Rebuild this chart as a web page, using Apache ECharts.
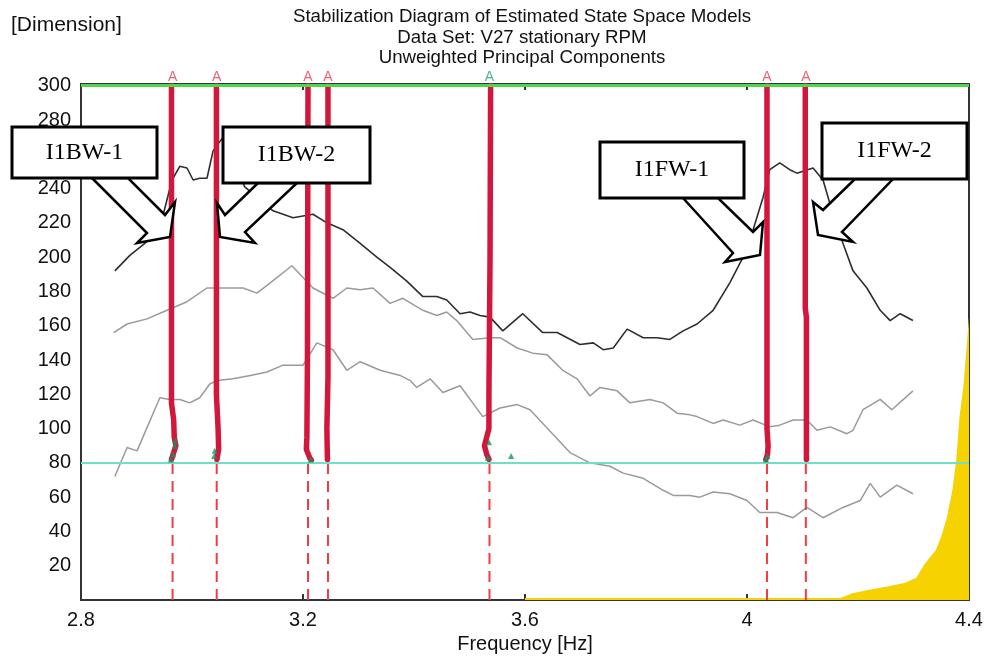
<!DOCTYPE html>
<html><head><meta charset="utf-8">
<script src="https://cdn.jsdelivr.net/npm/echarts@6.0.0/dist/echarts.min.js"></script>
<style>html,body{margin:0;padding:0;background:#fff}#c{width:997px;height:660px}</style>
</head><body><div id="c"></div>
<script>
// ---------- data ----------
const titleLines = ['Stabilization Diagram of Estimated State Space Models', 'Data Set: V27 stationary RPM', 'Unweighted Principal Components'];
const yAxisTitle = '[Dimension]';
const xAxisTitle = 'Frequency [Hz]';
const xRange = [2.8, 4.4];
const xStep = 0.4;
const yRange = [0, 301];
const yStep = 20;
const thresholdDim = 80;   // lower stabilization limit
const maxDim = 300;        // highest model order

const darkCurve = [[2.861,192],[2.888,201],[2.915,208],[2.942,217],[2.964,245],[2.978,253],[2.991,252],[3.002,245],[3.014,246],[3.027,246],[3.038,262],[3.056,270],[3.095,241],[3.146,227],[3.182,223],[3.218,225],[3.243,220],[3.272,216],[3.303,208],[3.333,200],[3.357,194],[3.387,186],[3.416,177],[3.441,177],[3.459,175],[3.483,167],[3.501,168],[3.519,166],[3.537,165],[3.560,157],[3.596,167],[3.632,156],[3.658,156],[3.676,153],[3.699,149],[3.723,150],[3.741,146],[3.759,147],[3.784,158],[3.813,153],[3.838,153],[3.861,152],[3.885,157],[3.910,161],[3.939,169],[3.969,185],[3.993,200],[4.011,216],[4.029,235],[4.041,251],[4.059,255],[4.077,251],[4.090,249],[4.119,252],[4.137,245],[4.155,225],[4.173,208],[4.191,192],[4.216,182],[4.240,169],[4.258,163],[4.276,167],[4.299,163]];

const midCurve = [[2.859,156],[2.883,161],[2.919,164],[2.955,169],[2.991,174],[3.027,182],[3.063,182],[3.092,182],[3.117,179],[3.141,185],[3.180,195],[3.218,182],[3.254,176],[3.279,182],[3.303,181],[3.326,182],[3.357,173],[3.380,176],[3.416,169],[3.441,166],[3.459,168],[3.477,163],[3.506,152],[3.537,153],[3.555,153],[3.586,147],[3.614,144],[3.640,143],[3.668,134],[3.694,129],[3.717,119],[3.735,124],[3.766,122],[3.789,115],[3.825,117],[3.849,115],[3.874,109],[3.897,108],[3.910,107],[3.939,103],[3.957,105],[3.987,102],[4.011,105],[4.041,101],[4.059,102],[4.083,105],[4.108,105],[4.126,99],[4.150,101],[4.180,97],[4.191,99],[4.209,111],[4.240,117],[4.261,111],[4.299,122]];

const lowCurve = [[2.861,72],[2.883,89],[2.901,87],[2.942,118],[2.960,117],[2.978,117],[2.996,115],[3.014,118],[3.032,126],[3.045,128],[3.074,129],[3.105,131],[3.135,133],[3.164,137],[3.200,137],[3.225,150],[3.254,146],[3.279,134],[3.303,139],[3.339,134],[3.375,131],[3.393,128],[3.405,124],[3.429,129],[3.452,121],[3.483,125],[3.524,107],[3.555,112],[3.586,114],[3.609,111],[3.681,86],[3.717,80],[3.753,78],[3.777,74],[3.813,71],[3.849,64],[3.867,61],[3.897,61],[3.915,60],[3.939,63],[3.969,62],[4.000,58],[4.023,51],[4.054,51],[4.083,48],[4.108,54],[4.137,48],[4.173,54],[4.204,58],[4.222,68],[4.240,60],[4.270,67],[4.299,62]];

const poleCount = [[3.600,1.2],[4.168,1.2],[4.175,2],[4.190,4],[4.220,6],[4.255,8],[4.285,10],[4.305,13],[4.320,21],[4.340,29],[4.350,37],[4.360,48],[4.370,64],[4.377,82],[4.383,107],[4.390,125],[4.395,145],[4.400,165]];

const modeFreqs = [2.965, 3.0445, 3.209, 3.245, 3.536, 4.036, 4.106];
const modeHighlighted = [0, 0, 0, 0, 1, 0, 0];

const stableCols = [
  [[2.963,300],[2.963,115],[2.967,105],[2.968,95],[2.971,90],[2.966,85],[2.963,82]],
  [[3.044,300],[3.044,120],[3.047,100],[3.048,88],[3.045,82]],
  [[3.209,300],[3.208,140],[3.207,95],[3.206,88],[3.212,83],[3.215,81.5]],
  [[3.245,300],[3.245,130],[3.243,100],[3.244,82]],
  [[3.538,300],[3.537,200],[3.535,120],[3.535,100],[3.531,95],[3.527,90],[3.531,85],[3.535,82]],
  [[4.036,300],[4.036,100],[4.038,90],[4.037,85],[4.034,82]],
  [[4.105,300],[4.105,170],[4.107,165],[4.107,82]]
];

const greenPoles = [[2.962,82],[2.966,85],[2.969,90],[2.970,93],[3.040,84],[3.041,87],[3.214,82],[3.533,83],[3.535,92],[3.575,84],[4.034,82],[4.037,84]];

const modeNames = ['I1BW-1', 'I1BW-2', 'I1FW-1', 'I1FW-2'];

// ---------- chart ----------
const chart = echarts.init(document.getElementById('c'), null, {renderer: 'canvas'});
const FRAME = '#333';
const RED = '#d3173b';
const series = [];

series.push({
  type: 'line', data: poleCount, symbol: 'none', silent: true,
  lineStyle: {width: 0}, areaStyle: {color: '#f6d200', opacity: 1}, z: 1,
  markLine: {
    silent: true, symbol: 'none', label: {show: false},
    data: [
      {yAxis: maxDim, lineStyle: {color: '#4fd64f', width: 3, type: 'solid'}},
      {yAxis: thresholdDim, lineStyle: {color: '#6fe0c8', width: 2, type: 'solid'}}
    ]
  }
});
[[darkCurve, '#2e2e2e', 1.6], [midCurve, '#9a9a9a', 1.5], [lowCurve, '#9a9a9a', 1.5]].forEach(([d, c, w]) => {
  series.push({type: 'line', data: d, symbol: 'none', silent: true, lineStyle: {color: c, width: w}, z: 2});
});
modeFreqs.forEach(f => {
  series.push({type: 'line', data: [[f, yRange[0]], [f, thresholdDim]], symbol: 'none', silent: true,
    lineStyle: {color: '#ef3d47', width: 2, type: [11, 7]}, z: 3});
});
stableCols.forEach(col => {
  series.push({type: 'line', data: col, symbol: 'none', silent: true,
    lineStyle: {color: RED, width: 5.5, cap: 'round', join: 'round'}, z: 4});
});
series.push({type: 'scatter', data: greenPoles, symbol: 'triangle', symbolSize: 6, silent: true,
  itemStyle: {color: '#14955a'}, z: 5});
series.push({type: 'scatter', silent: true, clip: false, symbolSize: 1, z: 6,
  data: modeFreqs.map((f, i) => ({value: [f, maxDim],
    label: {color: modeHighlighted[i] ? '#22a06b' : '#e23a57'}})),
  itemStyle: {color: 'rgba(0,0,0,0)'},
  label: {show: true, position: 'top', distance: 1, formatter: 'A', fontSize: 14, fontFamily: 'Liberation Sans'}
});

// annotation callouts (layout in pixels)
const boxes = [
  {x: 12, y: 127, w: 145, h: 51, arrow: [[92,178],[147,233],[137,243],[170,237],[175,202],[165,215],[128,178]]},
  {x: 223, y: 127, w: 147, h: 56, arrow: [[258,183],[225,215],[217,203],[220,237],[255,243],[245,232],[297,183]]},
  {x: 600, y: 142, w: 144, h: 56, arrow: [[683,198],[733,253],[725,262],[760,255],[763,222],[753,232],[718,198]]},
  {x: 822, y: 123, w: 145, h: 56, arrow: [[855,179],[823,210],[813,202],[818,235],[853,242],[842,232],[893,179]]}
];
const graphics = [];
boxes.forEach((b, i) => {
  graphics.push({type: 'polygon', z: 100, shape: {points: b.arrow},
    style: {fill: '#fff', stroke: '#000', lineWidth: 2.5, lineJoin: 'miter'}});
  graphics.push({type: 'rect', z: 101, shape: {x: b.x, y: b.y, width: b.w, height: b.h},
    style: {fill: '#fff', stroke: '#000', lineWidth: 3}});
  graphics.push({type: 'text', z: 102, x: b.x + b.w / 2, y: b.y + b.h / 2,
    style: {text: modeNames[i], font: '24px "Liberation Serif"', fill: '#000', textAlign: 'center', textVerticalAlign: 'middle', verticalAlign: 'middle'}});
});
titleLines.forEach((t, i) => {
  graphics.push({type: 'text', x: 522, y: 17 + i * 20.5,
    style: {text: t, font: '18.7px "Liberation Sans"', fill: '#111', textAlign: 'center', textVerticalAlign: 'middle', verticalAlign: 'middle'}});
});
graphics.push({type: 'text', x: 11, y: 25,
  style: {text: yAxisTitle, font: '21px "Liberation Sans"', fill: '#111', textAlign: 'left', textVerticalAlign: 'middle', verticalAlign: 'middle'}});

const axisCommon = {
  axisLine: {show: true, onZero: false, lineStyle: {color: FRAME, width: 2}},
  splitLine: {show: false}
};
chart.setOption({
  animation: false,
  backgroundColor: '#fff',
  grid: {left: 81, right: 28, top: 84, bottom: 60, containLabel: false},
  xAxis: [
    Object.assign({type: 'value', min: xRange[0], max: xRange[1], interval: xStep, position: 'bottom',
      axisTick: {show: true, inside: true, length: 6, lineStyle: {color: FRAME, width: 2}},
      axisLabel: {fontSize: 20, color: '#111', margin: 10, fontFamily: 'Liberation Sans'},
      name: xAxisTitle, nameLocation: 'middle', nameGap: 28,
      nameTextStyle: {fontSize: 20, color: '#111', fontFamily: 'Liberation Sans'}}, axisCommon),
    Object.assign({type: 'value', min: xRange[0], max: xRange[1], interval: xStep, position: 'top',
      axisTick: {show: true, inside: true, length: 6, lineStyle: {color: FRAME, width: 2}},
      axisLabel: {show: false}}, axisCommon)
  ],
  yAxis: [
    Object.assign({type: 'value', min: yRange[0], max: yRange[1], interval: yStep, position: 'left',
      axisTick: {show: false},
      axisLabel: {fontSize: 20, color: '#111', margin: 10, fontFamily: 'Liberation Sans',
        formatter: v => (v > 0 && v % yStep === 0) ? String(v) : ''}}, axisCommon),
    Object.assign({type: 'value', min: yRange[0], max: yRange[1], interval: yStep, position: 'right',
      axisTick: {show: false}, axisLabel: {show: false}}, axisCommon)
  ],
  series: series,
  graphic: graphics
});
</script>
</body></html>
